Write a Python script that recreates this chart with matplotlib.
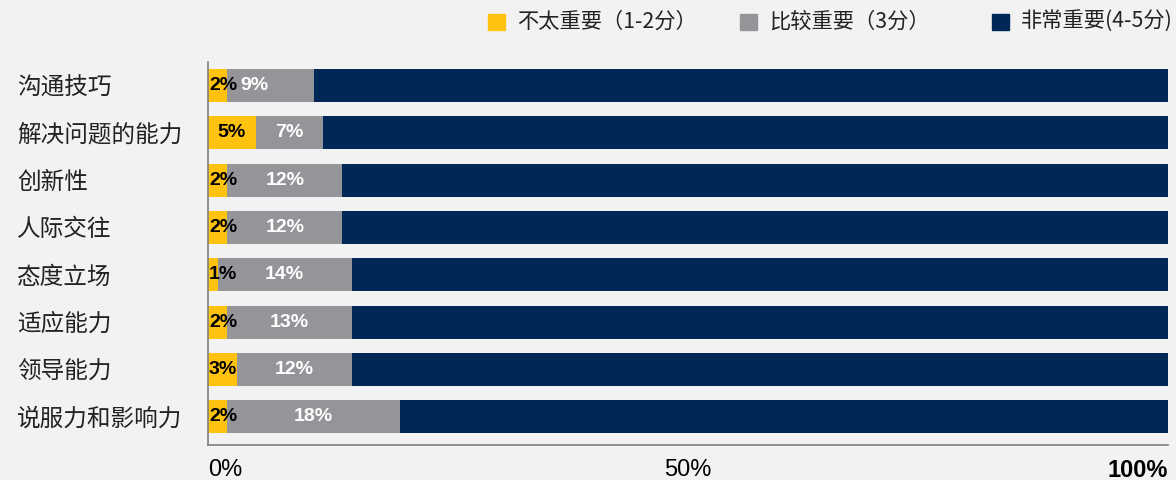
import numpy as np
import matplotlib
matplotlib.use('Agg')
import matplotlib.pyplot as plt
from matplotlib.patches import Rectangle

plt.rcParams['font.family'] = ['Noto Sans CJK SC', 'DejaVu Sans']

# data (percent)
categories = ['沟通技巧', '解决问题的能力', '创新性', '人际交往',
              '态度立场', '适应能力', '领导能力', '说服力和影响力']
low = [2, 5, 2, 2, 1, 2, 3, 2]       # 不太重要（1-2分）
mid = [9, 7, 12, 12, 14, 13, 12, 18]  # 比较重要（3分）
high = [100 - a - b for a, b in zip(low, mid)]  # 非常重要(4-5分)
series_names = ['不太重要（1-2分）', '比较重要（3分）', '非常重要(4-5分)']
colors = ['#FFC20E', '#939598', '#002856']
bg = '#F2F2F2'

fig = plt.figure(figsize=(11.76, 4.8), dpi=100, facecolor=bg)
ax = fig.add_axes([208/1176, 1 - 445/480, 960/1176, 383/480])
ax.set_facecolor(bg)

y = np.arange(len(categories))
low = np.array(low); mid = np.array(mid); high = np.array(high)
ax.barh(y, low, height=0.7, color=colors[0])
ax.barh(y, mid, left=low, height=0.7, color=colors[1])
ax.barh(y, high, left=low + mid, height=0.7, color=colors[2])

num_font = ['Liberation Sans', 'DejaVu Sans']
for i in range(len(categories)):
    # narrow yellow pieces: label starts at the axis
    if low[i] < 4:
        ax.text(0.1, y[i], f'{low[i]}%', ha='left', va='center',
                fontsize=14, fontweight='bold', color='black', family=num_font)
    else:
        ax.text(low[i] / 2, y[i], f'{low[i]}%', ha='center', va='center',
                fontsize=14, fontweight='bold', color='black', family=num_font)
    xm = low[i] + mid[i] / 2
    if mid[i] < 10 and low[i] < 4:
        xm = 3.4  # keep clear of the yellow label
        ax.text(xm, y[i], f'{mid[i]}%', ha='left', va='center',
                fontsize=14, fontweight='bold', color='white', family=num_font)
    else:
        ax.text(xm, y[i], f'{mid[i]}%', ha='center', va='center',
                fontsize=14, fontweight='bold', color='white', family=num_font)

ax.set_xlim(0, 100)
ax.set_ylim(7.6, -0.5)
ax.set_yticks(y)
ax.set_yticklabels(categories, fontsize=17, color='#222222')
for lab in ax.get_yticklabels():
    lab.set_horizontalalignment('left')
ax.tick_params(axis='y', length=0, pad=191 * 0.72)

ax.set_xticks([0, 50, 100])
ax.set_xticklabels(['0%', '50%', '100%'], fontsize=17, family=num_font)
xl = ax.get_xticklabels()
xl[0].set_horizontalalignment('left')
xl[2].set_horizontalalignment('right')
xl[2].set_fontweight('bold')
ax.tick_params(axis='x', length=0, pad=10)

for s in ['top', 'right']:
    ax.spines[s].set_visible(False)
for s in ['left', 'bottom']:
    ax.spines[s].set_color('#7F7F7F')
    ax.spines[s].set_linewidth(1.2)

# legend, drawn by hand
for k, name in enumerate(series_names):
    x0 = (488 + 252 * k) / 1176
    fig.add_artist(Rectangle((x0, 1 - 30/480), 17/1176, 16/480,
                             transform=fig.transFigure, color=colors[k]))
    fig.text(x0 + 29/1176, 1 - 22/480, name, fontsize=15.3, va='center',
             ha='left', color='#222222')

fig.savefig('out.png', dpi=100, facecolor=bg)
